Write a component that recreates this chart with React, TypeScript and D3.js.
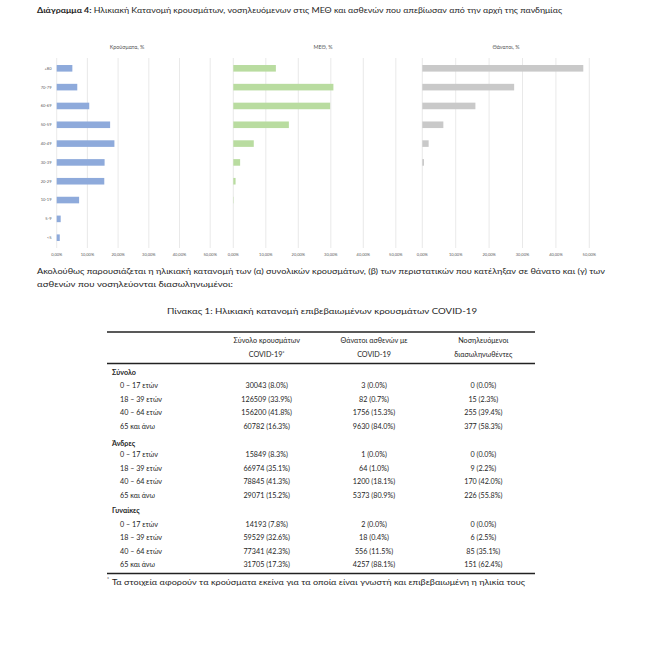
import React from "react";
import * as d3 from "d3";

const ageGroups = ["+80", "70-79", "60-69", "50-59", "40-49", "30-39", "20-29", "10-19", "5-9", "<5"];
const casesPct = [5.1, 6.7, 10.6, 17.4, 18.8, 15.6, 15.5, 7.3, 1.3, 1.0];
const icuPct = [13.1, 30.8, 29.8, 17.1, 6.3, 2.1, 0.7, 0.1, 0, 0];
const deathsPct = [48.2, 27.5, 15.9, 6.3, 1.9, 0.5, 0, 0, 0, 0];
const panelTitles = ["Κρούσματα, %", "ΜΕΘ, %", "Θάνατοι, %"];
const axisTicks = [0, 10, 20, 30, 40, 50];

const tableHeaders = [
  ["Σύνολο κρουσμάτων", "COVID-19*"],
  ["Θάνατοι ασθενών με", "COVID-19"],
  ["Νοσηλευόμενοι", "διασωληνωθέντες"],
];
const sectionNames = ["Σύνολο", "Άνδρες", "Γυναίκες"];
const rowLabels = ["0 – 17 ετών", "18 – 39 ετών", "40 – 64 ετών", "65 και άνω"];
const totalRows = [
  ["30043 (8.0%)", "3 (0.0%)", "0 (0.0%)"],
  ["126509 (33.9%)", "82 (0.7%)", "15 (2.3%)"],
  ["156200 (41.8%)", "1756 (15.3%)", "255 (39.4%)"],
  ["60782 (16.3%)", "9630 (84.0%)", "377 (58.3%)"],
];
const menRows = [
  ["15849 (8.3%)", "1 (0.0%)", "0 (0.0%)"],
  ["66974 (35.1%)", "64 (1.0%)", "9 (2.2%)"],
  ["78845 (41.3%)", "1200 (18.1%)", "170 (42.0%)"],
  ["29071 (15.2%)", "5373 (80.9%)", "226 (55.8%)"],
];
const womenRows = [
  ["14193 (7.8%)", "2 (0.0%)", "0 (0.0%)"],
  ["59529 (32.6%)", "18 (0.4%)", "6 (2.5%)"],
  ["77341 (42.3%)", "556 (11.5%)", "85 (35.1%)"],
  ["31705 (17.3%)", "4257 (88.1%)", "151 (62.4%)"],
];

const FONT = "Lato, 'Liberation Sans', Arial, sans-serif";
const TXT = "#1e1e1e";

export default function App() {
  const W = 650, H = 655;
  const y = d3.scaleBand<string>().domain(ageGroups).range([58.9, 247.1]).paddingInner(0.65).paddingOuter(0.325);
  const panels = [
    { values: casesPct, color: "#8eaadb", x: d3.scaleLinear().domain([0, 60]).range([56.7, 56.7 + 184.2]), tcx: 127 },
    { values: icuPct, color: "#b9dca0", x: d3.scaleLinear().domain([0, 60]).range([233.3, 233.3 + 195]), tcx: 323 },
    { values: deathsPct, color: "#c9c9c9", x: d3.scaleLinear().domain([0, 60]).range([422.3, 422.3 + 200.4]), tcx: 506 },
  ];
  const fmtTick = (v: number) => v.toFixed(2).replace(".", ",") + "%";

  const colX = [266.7, 374, 483.3];
  const fs = 7.2;
  const sections = [
    { name: sectionNames[0], rows: totalRows, hy: 372.5, ry: [386, 399.5, 413, 426.5] },
    { name: sectionNames[1], rows: menRows, hy: 443.5, ry: [455, 468.5, 482, 495.5] },
    { name: sectionNames[2], rows: womenRows, hy: 511, ry: [524.5, 538, 551.5, 565] },
  ];

  return (
    <svg width={W} height={H} style={{ position: "absolute", left: 0, top: 0, background: "#fff" }} fontFamily={FONT}>
      <rect width={W} height={H} fill="#fff" />
      <text x={37} y={13} fontSize={8} fill={TXT} textLength={525} lengthAdjust="spacingAndGlyphs">
        <tspan fontWeight="bold">Διάγραμμα 4:</tspan> Ηλικιακή Κατανομή κρουσμάτων, νοσηλευόμενων στις ΜΕΘ και ασθενών που απεβίωσαν από την αρχή της πανδημίας
      </text>

      {panels.map((p, pi) => (
        <g key={pi}>
          {axisTicks.map((t) => (
            <line key={t} x1={p.x(t)} x2={p.x(t)} y1={58} y2={248} stroke="#e3e3e3" strokeWidth={0.8} />
          ))}
          <text x={p.tcx} y={49} fontSize={5.4} fill="#595959" textAnchor="middle">{panelTitles[pi]}</text>
          {ageGroups.map((g, i) => (
            <rect key={g} x={p.x(0)} y={y(g)!} width={Math.max(0, p.x(p.values[i]) - p.x(0))} height={y.bandwidth()} fill={p.color} />
          ))}
          {axisTicks.map((t) => (
            <text key={"t" + t} x={p.x(t)} y={255.5} fontSize={4} fill="#595959" textAnchor="middle">{fmtTick(t)}</text>
          ))}
        </g>
      ))}
      {ageGroups.map((g) => (
        <text key={g} x={51.5} y={y(g)! + y.bandwidth() / 2 + 1.4} fontSize={4} fill="#595959" textAnchor="end">{g}</text>
      ))}

      <text x={37} y={274} fontSize={7.6} fill={TXT} textLength={568} lengthAdjust="spacingAndGlyphs">
        Ακολούθως παρουσιάζεται η ηλικιακή κατανομή των (α) συνολικών κρουσμάτων, (β) των περιστατικών που κατέληξαν σε θάνατο και (γ) των
      </text>
      <text x={37} y={287} fontSize={7.6} fill={TXT} textLength={196} lengthAdjust="spacingAndGlyphs">
        ασθενών που νοσηλεύονται διασωληνωμένοι:
      </text>

      <text x={322} y={314} fontSize={7.8} fill={TXT} textAnchor="middle" textLength={310} lengthAdjust="spacingAndGlyphs">
        Πίνακας 1: Ηλικιακή κατανομή επιβεβαιωμένων κρουσμάτων COVID-19
      </text>

      <line x1={107} x2={535} y1={332} y2={332} stroke="#222" strokeWidth={1.5} />
      {tableHeaders.map((h, i) => (
        <g key={i}>
          <text x={colX[i]} y={343} fontSize={fs} fill={TXT} textAnchor="middle">{h[0]}</text>
          <text x={colX[i]} y={357} fontSize={fs} fill={TXT} textAnchor="middle">
            {h[1].endsWith("*") ? (
              <>
                {h[1].slice(0, -1)}
                <tspan fontSize={5.5} dy={-2}>*</tspan>
              </>
            ) : h[1]}
          </text>
        </g>
      ))}
      <line x1={107} x2={535} y1={363.5} y2={363.5} stroke="#222" strokeWidth={1.5} />
      {sections.map((s) => (
        <g key={s.name}>
          <text x={112} y={s.hy + 2.4} fontSize={fs} fontWeight="bold" fill={TXT}>{s.name}</text>
          {s.rows.map((r, ri) => (
            <g key={ri}>
              <text x={120} y={s.ry[ri] + 2.4} fontSize={fs} fill={TXT}>{rowLabels[ri]}</text>
              {r.map((c, ci) => (
                <text key={ci} x={colX[ci]} y={s.ry[ri] + 2.4} fontSize={fs} fill={TXT} textAnchor="middle">{c}</text>
              ))}
            </g>
          ))}
        </g>
      ))}
      <line x1={107} x2={535} y1={573.5} y2={573.5} stroke="#222" strokeWidth={1.5} />
      <text x={107} y={581} fontSize={5} fill={TXT}>*</text>
      <text x={112} y={585} fontSize={fs} fill={TXT} textLength={413} lengthAdjust="spacingAndGlyphs">
        Τα στοιχεία αφορούν τα κρούσματα εκείνα για τα οποία είναι γνωστή και επιβεβαιωμένη η ηλικία τους
      </text>
    </svg>
  );
}
